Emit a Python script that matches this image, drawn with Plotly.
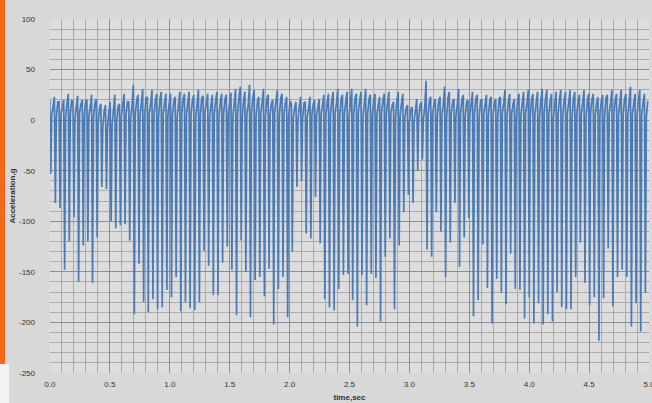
import plotly.graph_objects as go

# ---- data ----
t_first = 0.006      # time of first spike (s)
spike_dt = 0.03878   # spacing between impacts (s)

spike_min = [
    -53, -82, -87, -148, -120, -96, -160, -124, -120, -161, -116, -66, -68, -100, -107, -104, -103, -119, -192, -142, -180, -190, -177, -187, -185, -168,
    -175, -155, -189, -180, -186, -188, -180, -129, -144, -173, -173, -141, -125, -148, -193, -119, -150, -195, -158, -155, -174, -147, -202, -167, -155, -195,
    -130, -66, -60, -112, -117, -76, -122, -177, -185, -188, -167, -153, -152, -178, -204, -153, -183, -152, -156, -199, -135, -117, -187, -124, -91, -74,
    -82, -50, -39, -128, -135, -91, -110, -155, -121, -82, -145, -116, -97, -194, -178, -123, -166, -201, -157, -171, -182, -132, -167, -168, -196,
    -175, -201, -181, -202, -192, -199, -170, -185, -187, -187, -155, -121, -161, -183, -175, -218, -176, -127, -184, -155, -148, -155, -204, -181, -209, -171,
]
spike_top = [
    21, 23, 18, 20, 26, 18, 24, 20, 20, 25, 21, 16, 15, 18, 25, 16, 26, 18, 35, 25, 31, 23, 30, 26, 28, 26,
    26, 23, 28, 26, 28, 25, 30, 24, 26, 25, 28, 26, 25, 27, 31, 33, 28, 35, 30, 23, 31, 25, 20, 30, 26, 23,
    16, 18, 23, 18, 23, 20, 21, 25, 26, 28, 31, 25, 28, 31, 26, 28, 31, 25, 26, 23, 26, 28, 18, 28, 26, 15,
    13, 21, 18, 39, 23, 21, 23, 33, 28, 21, 31, 25, 20, 28, 25, 21, 25, 23, 21, 23, 30, 26, 21, 26, 28,
    30, 26, 28, 31, 30, 26, 28, 30, 28, 30, 28, 25, 30, 26, 26, 23, 25, 25, 30, 26, 30, 26, 33, 26, 30, 26,
]
band_low = [
    4, 2, 6, 3, 5, 1, 7, 3, 4, 2, -3, -7, -9, -5, -1, 3, 5, 2, 6, 4, 3, 7, 5, 2, 6, 4,
    5, 3, 7, 4, 6, 2, 5, 8, 3, 6, 4, 7, 5, 3, 6, 2, 5, 7, 4, 6, 3, 5, 8, 4, 6, 3,
    2, -1, 1, 3, 5, 4, 6, 3, 5, 7, 4, 6, 2, 5, 7, 3, 6, 4, 5, 8, 3, 6, 2, 4, 1, -2,
    -1, 2, 0, 4, 6, 3, 5, 2, 7, 4, 6, 3, 5, 7, 2, 6, 4, 5, 3, 7, 4, 6, 3, 5, 7,
    4, 6, 3, 7, 5, 2, 6, 4, 7, 3, 5, 6, 2, 8, 4, 5, 3, 6, 7, 4, 5, 3, 6, 4, 5, 3,
]
band_mid = [
    15, 18, 13, 17, 20, 14, 16, 19, 13, 17, 12, 9, 8, 11, 14, 16, 18, 15, 20, 17, 22, 16, 19, 21, 18, 17,
    19, 16, 21, 18, 20, 17, 22, 18, 16, 20, 19, 21, 17, 18, 22, 20, 16, 23, 19, 18, 21, 17, 20, 22, 18, 19,
    13, 14, 17, 12, 16, 13, 15, 18, 20, 17, 21, 19, 18, 22, 20, 17, 21, 19, 16, 20, 18, 15, 19, 17, 12, 11,
    10, 15, 13, 20, 17, 19, 16, 22, 18, 15, 20, 18, 17, 21, 19, 16, 20, 18, 21, 17, 19, 16, 20, 18, 17,
    21, 18, 20, 22, 19, 17, 21, 20, 18, 22, 19, 17, 20, 21, 18, 19, 22, 17, 20, 18, 21, 19, 17, 20, 18, 19,
]
x_ticks = [0.0, 0.5, 1.0, 1.5, 2.0, 2.5, 3.0, 3.5, 4.0, 4.5, 5.0]
y_ticks = [100, 50, 0, -50, -100, -150, -200, -250]

# ---- build the trace ----
t_vals, a_vals = [], []
for i in range(len(spike_min)):
    tc = t_first + i * spike_dt
    t_vals += [tc - 0.008, tc, tc + 0.008, tc + 0.020]
    a_vals += [spike_top[i], spike_min[i], band_low[i], band_mid[i]]

W, H = 652, 403
L, R, T, B = 50, 3, 19, 30
pw, ph = W - L - R, H - T - B

def px(x):
    return (x - L) / pw

def py(y):
    return (H - B - y) / ph

fig = go.Figure()
fig.add_trace(go.Scatter(x=t_vals, y=a_vals, mode="lines",
                         line=dict(color="#4a7bb7", width=1.7),
                         hoverinfo="skip", showlegend=False))

fig.update_layout(
    width=W, height=H,
    margin=dict(l=L, r=R, t=T, b=B, autoexpand=False),
    paper_bgcolor="#d8d8d8",
    plot_bgcolor="#dddddd",
    font=dict(family="Liberation Sans, Arial, sans-serif", size=8, color="#333333"),
    shapes=[
        dict(type="rect", xref="paper", yref="paper", x0=px(0), x1=px(5),
             y0=py(364), y1=py(0), fillcolor="#f26a1b", line=dict(width=0), layer="above"),
        dict(type="rect", xref="paper", yref="paper", x0=px(0), x1=px(9),
             y0=py(403), y1=py(364), fillcolor="#f2f2f2", line=dict(width=0), layer="above"),
    ],
)
fig.update_xaxes(
    range=[0, 5], tickvals=x_ticks, ticktext=[f"{v:.1f}" for v in x_ticks],
    showgrid=True, gridcolor="#8e8e8e", gridwidth=1,
    minor=dict(dtick=0.1, showgrid=True, gridcolor="#ababab", gridwidth=0.8),
    zeroline=False, showline=False, ticks="", ticklabelstandoff=5, automargin=False,
    ticklabeloverflow="allow",
    title=dict(text="<b>time,sec</b>", font=dict(size=8, color="#333333"), standoff=6),
)
fig.update_yaxes(
    range=[-250, 100], tickvals=y_ticks, ticktext=[str(v) for v in y_ticks],
    showgrid=True, gridcolor="#8e8e8e", gridwidth=1,
    minor=dict(dtick=10, tick0=0, showgrid=True, gridcolor="#ababab", gridwidth=0.8),
    zeroline=False, showline=False, ticks="", ticklabelstandoff=14, automargin=False,
    ticklabeloverflow="allow",
    title=dict(text="<b>Acceleration,g</b>", font=dict(size=8, color="#333333"), standoff=2),
)

fig.write_html("out.html", config={"displayModeBar": False},
               post_script="document.body.style.margin='0';document.body.style.overflow='hidden';")
